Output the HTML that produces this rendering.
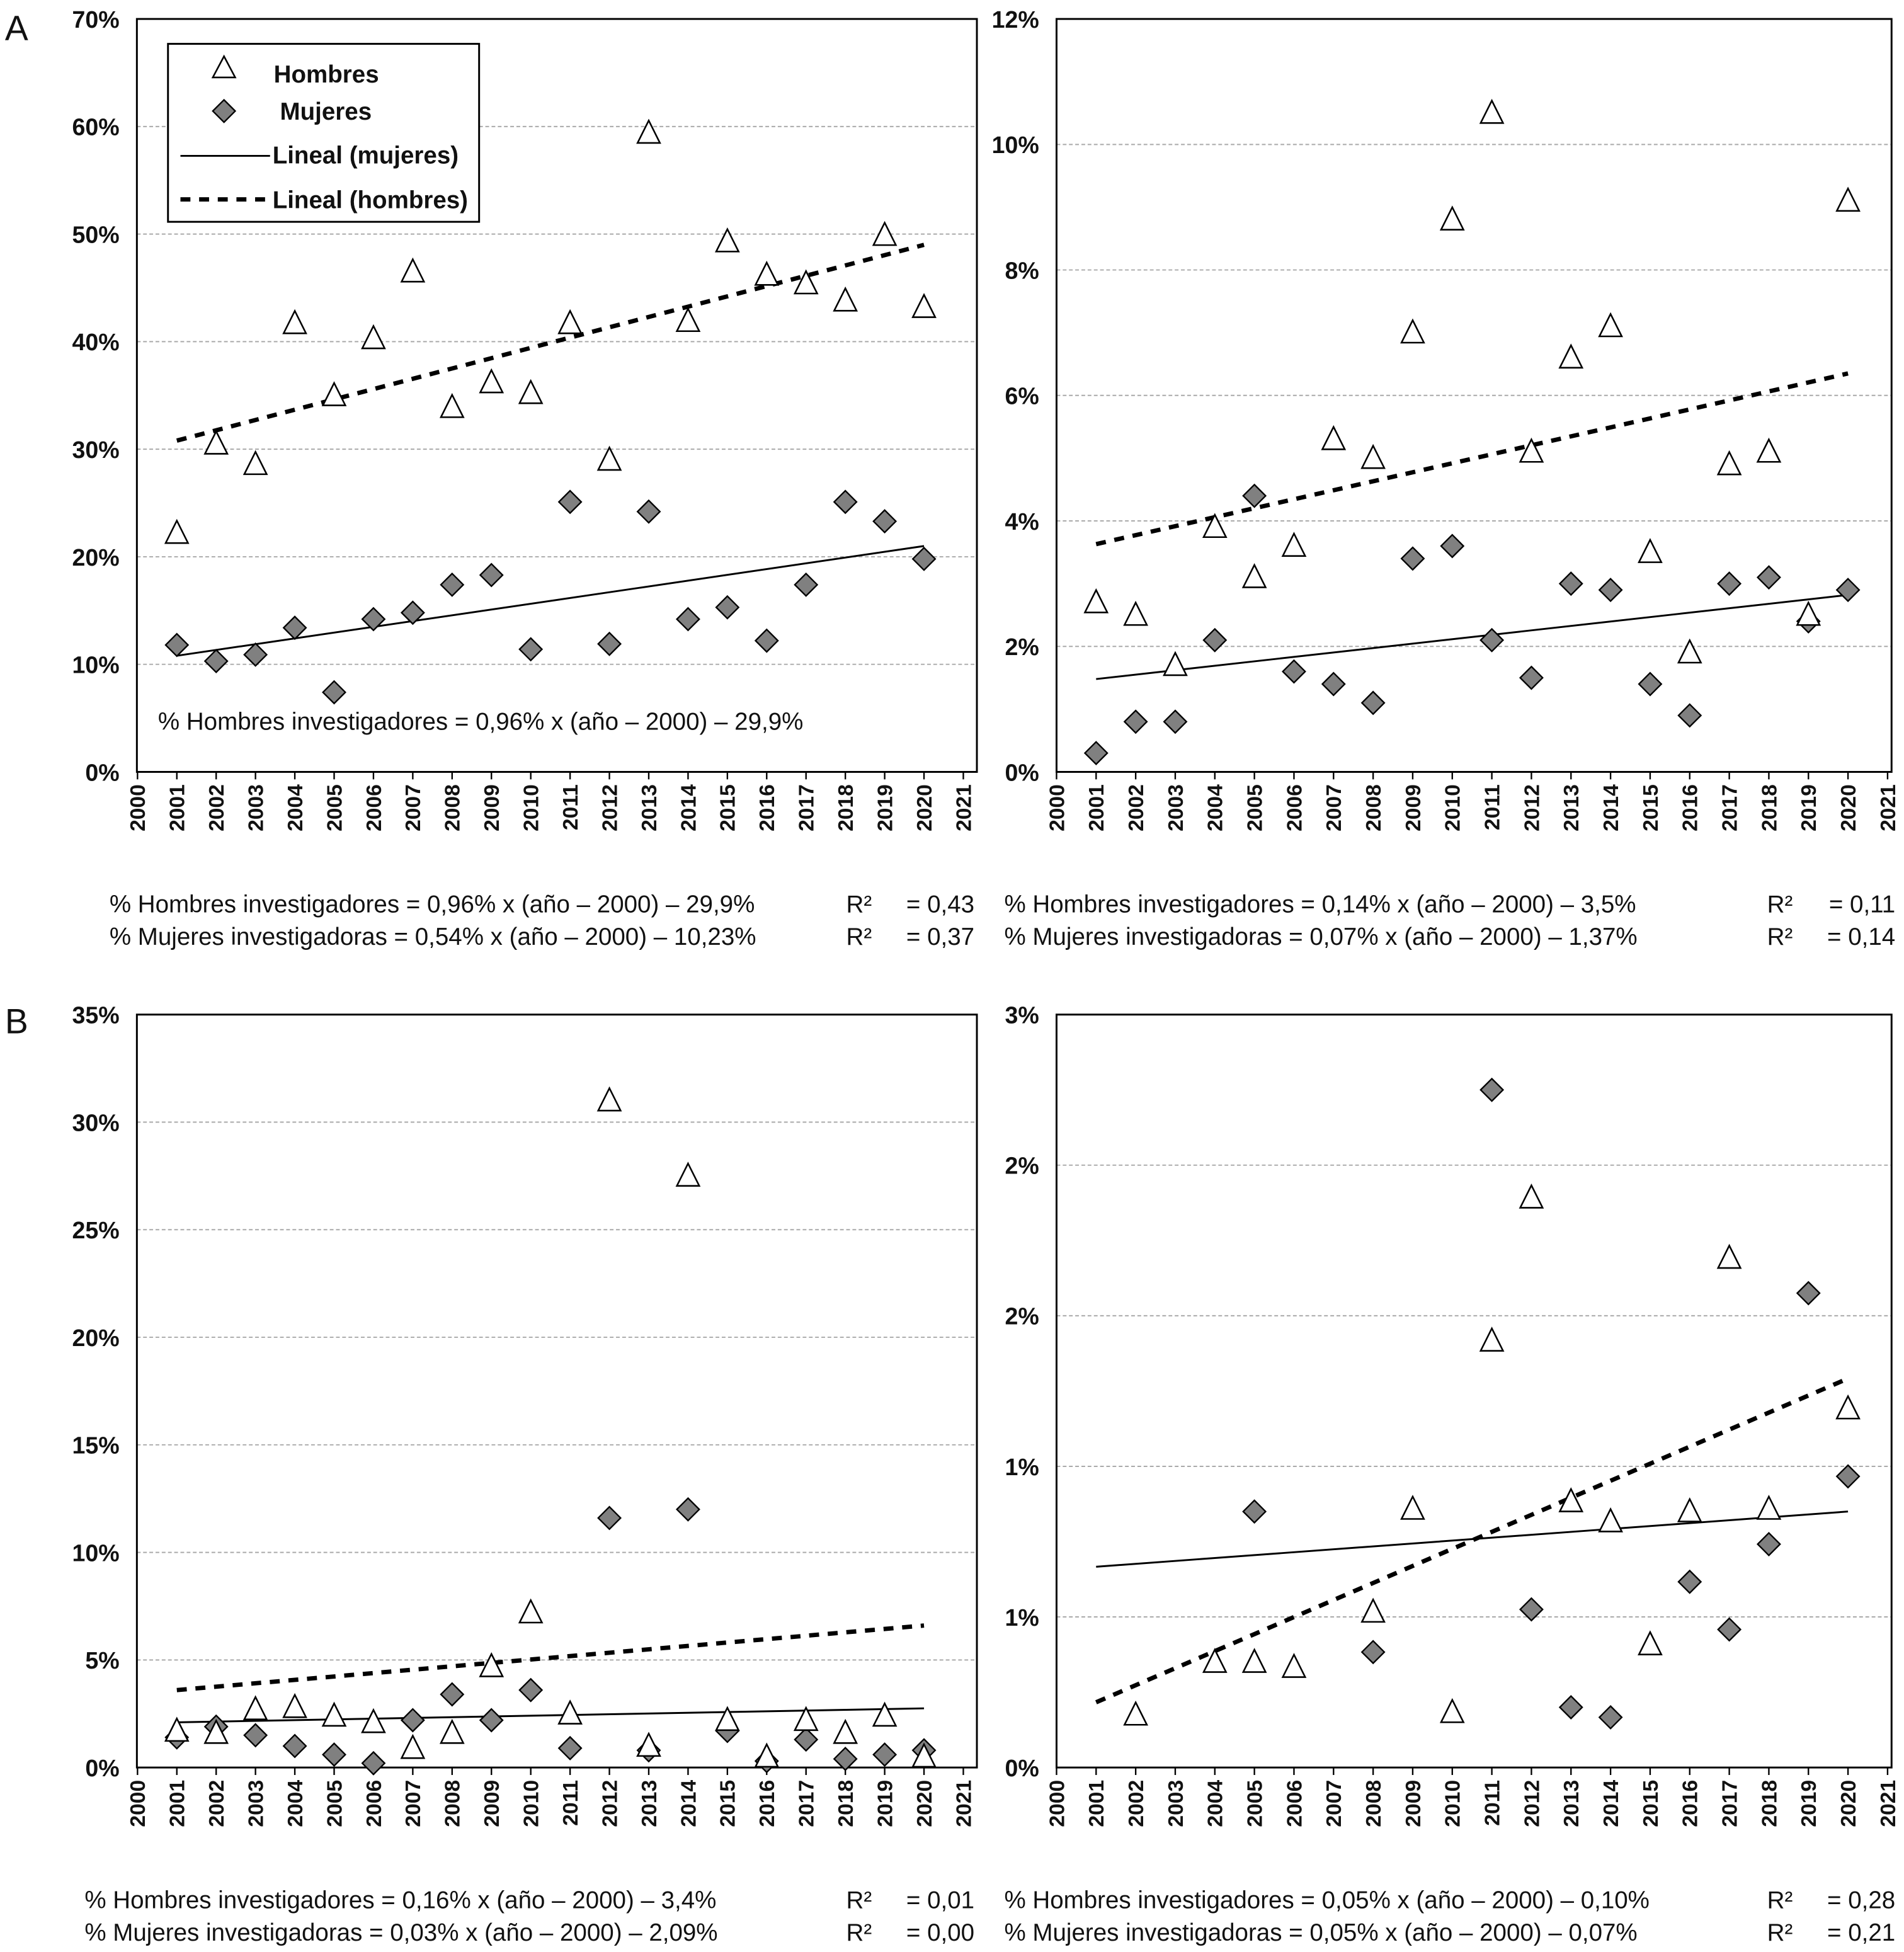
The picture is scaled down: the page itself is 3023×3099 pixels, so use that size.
<!DOCTYPE html>
<html><head><meta charset="utf-8"><style>
html,body{margin:0;padding:0;background:#fff}
svg{display:block}
text{font-family:"Liberation Sans",Arial,sans-serif;fill:#111}
</style></head><body>
<svg id="chart" width="3023" height="3099" viewBox="0 0 1530 1568" xmlns="http://www.w3.org/2000/svg">
<text x="4" y="32" font-size="28">A</text>
<text x="4" y="830" font-size="28">B</text>
</svg>
<script>
const years=[2001,2002,2003,2004,2005,2006,2007,2008,2009,2010,2011,2012,2013,2014,2015,2016,2017,2018,2019,2020];
const xTicks=[2000,2001,2002,2003,2004,2005,2006,2007,2008,2009,2010,2011,2012,2013,2014,2015,2016,2017,2018,2019,2020,2021];
// Panel A left
const aLeftHombres=[22.2,30.5,28.6,41.7,35,40.3,46.5,33.9,36.2,35.2,41.7,29,59.4,41.9,49.3,46.2,45.4,43.8,49.9,43.2];
const aLeftMujeres=[11.8,10.3,10.9,13.4,7.4,14.2,14.8,17.4,18.3,11.4,25.1,11.9,24.2,14.2,15.3,12.2,17.4,25.1,23.3,19.8];
const aLeftTrendM=[10.8,21.0];
const aLeftTrendH=[30.8,49.0];
const aLeftTicks=[0,10,20,30,40,50,60,70];
const aLeftTickLabels=["0%","10%","20%","30%","40%","50%","60%","70%"];
// Panel A right
const aRightHombres=[2.7,2.5,1.7,3.9,3.1,3.6,5.3,5.0,7.0,8.8,10.5,5.1,6.6,7.1,3.5,1.9,4.9,5.1,2.5,9.1];
const aRightMujeres=[0.3,0.8,0.8,2.1,4.4,1.6,1.4,1.1,3.4,3.6,2.1,1.5,3.0,2.9,1.4,0.9,3.0,3.1,2.4,2.9];
const aRightTrendM=[1.48,2.82];
const aRightTrendH=[3.63,6.35];
const aRightTicks=[0,2,4,6,8,10,12];
const aRightTickLabels=["0%","2%","4%","6%","8%","10%","12%"];
// Panel B left
const bLeftHombres=[1.7,1.6,2.7,2.8,2.4,2.1,0.9,1.6,4.7,7.2,2.5,31,1.0,27.5,2.2,0.5,2.2,1.6,2.4,0.5];
const bLeftMujeres=[1.4,1.9,1.5,1.0,0.6,0.2,2.2,3.4,2.2,3.6,0.9,11.6,0.8,12.0,1.7,0.3,1.3,0.4,0.6,0.8];
const bLeftTrendM=[2.1,2.75];
const bLeftTrendH=[3.6,6.6];
const bLeftTicks=[0,5,10,15,20,25,30,35];
const bLeftTickLabels=["0%","5%","10%","15%","20%","25%","30%","35%"];
// Panel B right
const bRightHombres=[null,0.21,null,0.42,0.42,0.40,null,0.62,1.03,0.22,1.70,2.27,1.06,0.98,0.49,1.02,2.03,1.03,null,1.43];
const bRightMujeres=[null,null,null,null,1.02,null,null,0.46,null,null,2.70,0.63,0.24,0.20,null,0.74,0.55,0.89,1.89,1.16];
const bRightTrendM=[0.80,1.02];
const bRightTrendH=[0.26,1.55];
const bRightTicks=[0,0.6,1.2,1.8,2.4,3.0];
const bRightTickLabels=["0%","1%","1%","2%","2%","3%"];

const NS="http://www.w3.org/2000/svg";
const svg=document.getElementById('chart');
function mk(tag,attrs,parent,txt){const e=document.createElementNS(NS,tag);for(const k in attrs)e.setAttribute(k,attrs[k]);if(txt!==undefined)e.textContent=txt;(parent||svg).appendChild(e);return e;}

function panel(id,x0,x1,xa,step,y0,y1,ymax,ticks,tickLabels,hom,muj,trM,trH,eqs){
  const g=mk('g',{});
  
  
  const xs=v=>xa+(v-2000)*step;
  const ys=v=>y1-v*(y1-y0)/ymax;
  ticks.forEach((t,i)=>{
    if(t>0&&t<ymax){const l=mk('line',{x1:x0,x2:x1,y1:ys(t),y2:ys(t),stroke:'#aaa','stroke-width':1,'stroke-dasharray':'3,2'},g);
      }
    const tx=mk('text',{x:x0-14,y:ys(t)+7,'font-size':19,'font-weight':'bold','text-anchor':'end'},g,tickLabels[i]);
    
  });
  const fr=mk('rect',{x:x0,y:y0,width:x1-x0,height:y1-y0,fill:'none',stroke:'#000','stroke-width':1.5},g);
  
  xTicks.forEach(t=>{
    mk('line',{x1:xs(t),x2:xs(t),y1:y1,y2:y1+6,stroke:'#000','stroke-width':1.2},g);
    const tx=mk('text',{x:0,y:0,'font-size':17,'font-weight':'bold','text-anchor':'end',transform:`translate(${xs(t)+6},${y1+10}) rotate(-90)`},g,String(t));
    
  });
  const lm=mk('line',{x1:xs(2001),y1:ys(trM[0]),x2:xs(2020),y2:ys(trM[1]),stroke:'#000','stroke-width':1.5},g);
  
  const lh=mk('line',{x1:xs(2001),y1:ys(trH[0]),x2:xs(2020),y2:ys(trH[1]),stroke:'#000','stroke-width':3.5,'stroke-dasharray':'8,7'},g);
  
  years.forEach((yr,i)=>{
    if(muj[i]!=null){const cx=xs(yr),cy=ys(muj[i]);
      const d=mk('path',{d:`M${cx},${cy-9}L${cx+9},${cy}L${cx},${cy+9}L${cx-9},${cy}Z`,fill:'#808080',stroke:'#000','stroke-width':1.2},g);
      }
    if(hom[i]!=null){const cx=xs(yr),cy=ys(hom[i]);
      const t=mk('path',{d:`M${cx},${cy-10}L${cx+9},${cy+8}L${cx-9},${cy+8}Z`,fill:'#fff',stroke:'#000','stroke-width':1.3},g);
      }
  });
  eqs.forEach(e=>{
    const a=mk('text',{x:e[0],y:e[1],'font-size':19.5},g,e[2]);
    
    const r=mk('text',{x:e[3],y:e[1],'font-size':19.5},g,'R²');
    
    const v=mk('text',{x:e[3]+103,y:e[1],'font-size':19.5,'text-anchor':'end'},g,e[4]);
    
  });
  return {xs,ys,g};
}
const pA=panel('panel-a-left',110,785,110.5,31.6,15,620,70,aLeftTicks,aLeftTickLabels,aLeftHombres,aLeftMujeres,aLeftTrendM,aLeftTrendH,
 [[88,733,'% Hombres investigadores = 0,96% x (año – 2000) – 29,9%',680,'= 0,43'],[88,759,'% Mujeres investigadoras = 0,54% x (año – 2000) – 10,23%',680,'= 0,37']]);
panel('panel-a-right',849,1520,849,31.8,15,620,12,aRightTicks,aRightTickLabels,aRightHombres,aRightMujeres,aRightTrendM,aRightTrendH,
 [[807,733,'% Hombres investigadores = 0,14% x (año – 2000) – 3,5%',1420,'= 0,11'],[807,759,'% Mujeres investigadoras = 0,07% x (año – 2000) – 1,37%',1420,'= 0,14']]);
panel('panel-b-left',110,785,110.5,31.6,815,1420,35,bLeftTicks,bLeftTickLabels,bLeftHombres,bLeftMujeres,bLeftTrendM,bLeftTrendH,
 [[68,1533,'% Hombres investigadores = 0,16% x (año – 2000) – 3,4%',680,'= 0,01'],[68,1559,'% Mujeres investigadoras = 0,03% x (año – 2000) – 2,09%',680,'= 0,00']]);
panel('panel-b-right',849,1520,849,31.8,815,1420,3,bRightTicks,bRightTickLabels,bRightHombres,bRightMujeres,bRightTrendM,bRightTrendH,
 [[807,1533,'% Hombres investigadores = 0,05% x (año – 2000) – 0,10%',1420,'= 0,28'],[807,1559,'% Mujeres investigadoras = 0,05% x (año – 2000) – 0,07%',1420,'= 0,21']]);
const ann=mk('text',{x:127,y:586,'font-size':19.5},pA.g,'% Hombres investigadores = 0,96% x (año – 2000) – 29,9%');


// legend
const lg=mk('g',{});


mk('rect',{x:135,y:35,width:250,height:143,fill:'#fff',stroke:'#000','stroke-width':1.5},lg);
mk('path',{d:'M180,45L189,62L171,62Z',fill:'#fff',stroke:'#000','stroke-width':1.3},lg);
const l1=mk('text',{x:220,y:66,'font-size':19.5,'font-weight':'bold'},lg,'Hombres');

mk('path',{d:'M180,80L189,89L180,98L171,89Z',fill:'#808080',stroke:'#000','stroke-width':1.2},lg);
const l2=mk('text',{x:225,y:96,'font-size':19.5,'font-weight':'bold'},lg,'Mujeres');

mk('line',{x1:145,x2:217,y1:125,y2:125,stroke:'#000','stroke-width':1.5},lg);
const l3=mk('text',{x:219,y:131,'font-size':19.5,'font-weight':'bold'},lg,'Lineal (mujeres)');

mk('line',{x1:145,x2:217,y1:160,y2:160,stroke:'#000','stroke-width':3.5,'stroke-dasharray':'8,7'},lg);
const l4=mk('text',{x:219,y:167,'font-size':19.5,'font-weight':'bold'},lg,'Lineal (hombres)');

</script>
</body></html>
